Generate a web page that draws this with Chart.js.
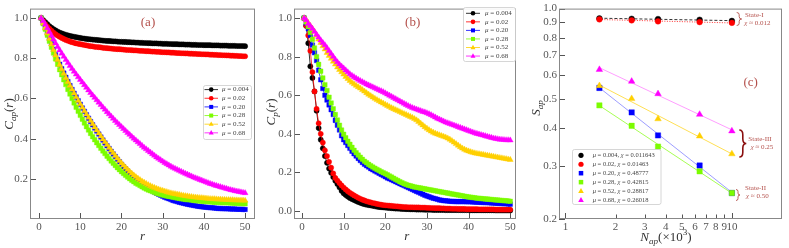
<!DOCTYPE html>
<html>
<head>
  <meta charset="utf-8" />
  <title>Correlation and S_ap panels</title>
  <script src="https://cdn.jsdelivr.net/npm/chart.js"></script>
  <style>
    body { margin: 0; background: #ffffff; }
    #wrap { position: relative; width: 789px; height: 248px; }
    #wrap canvas { position: absolute; top: 0; }
  </style>
</head>
<body>
  <div id="wrap">
    <canvas id="chart-a" width="263" height="248" style="left:0"></canvas>
    <canvas id="chart-b" width="263" height="248" style="left:263px"></canvas>
    <canvas id="chart-c" width="263" height="248" style="left:526px"></canvas>
  </div>
  <script>
    // ---- data ----
    const rVals = [0.5,1,1.5,2,2.5,3,3.5,4,4.5,5,5.5,6,6.5,7,7.5,8,8.5,9,9.5,10,
      10.5,11,11.5,12,12.5,13,13.5,14,14.5,15,15.5,16,16.5,17,17.5,18,18.5,19,19.5,20,
      20.5,21,21.5,22,22.5,23,23.5,24,24.5,25,25.5,26,26.5,27,27.5,28,28.5,29,29.5,30,
      30.5,31,31.5,32,32.5,33,33.5,34,34.5,35,35.5,36,36.5,37,37.5,38,38.5,39,39.5,40,
      40.5,41,41.5,42,42.5,43,43.5,44,44.5,45,45.5,46,46.5,47,47.5,48,48.5,49,49.5,50];

    // panel (a): C_ap(r)
    const capMu004 = [1.0,0.99,0.98,0.97,0.96,0.952,0.945,0.939,0.933,0.928,
      0.924,0.92,0.917,0.914,0.911,0.909,0.907,0.905,0.903,0.901,
      0.899,0.898,0.896,0.895,0.894,0.893,0.892,0.891,0.89,0.889,
      0.888,0.887,0.886,0.886,0.885,0.884,0.884,0.883,0.882,0.882,
      0.881,0.881,0.88,0.88,0.879,0.879,0.878,0.878,0.877,0.877,
      0.876,0.876,0.875,0.875,0.874,0.874,0.874,0.873,0.873,0.872,
      0.872,0.872,0.871,0.871,0.87,0.87,0.87,0.869,0.869,0.869,
      0.868,0.868,0.868,0.867,0.867,0.867,0.866,0.866,0.866,0.865,
      0.865,0.865,0.865,0.864,0.864,0.864,0.864,0.863,0.863,0.863,
      0.863,0.862,0.862,0.862,0.862,0.861,0.861,0.861,0.861,0.86];
    const capMu02 = [1.0,0.985,0.97,0.958,0.947,0.937,0.928,0.92,0.913,0.907,
      0.901,0.896,0.891,0.887,0.883,0.88,0.877,0.874,0.872,0.87,
      0.868,0.866,0.864,0.862,0.86,0.859,0.857,0.856,0.855,0.854,
      0.852,0.851,0.85,0.849,0.848,0.847,0.846,0.845,0.845,0.844,
      0.843,0.842,0.841,0.841,0.84,0.839,0.839,0.838,0.837,0.837,
      0.836,0.835,0.835,0.834,0.833,0.833,0.832,0.832,0.831,0.83,
      0.83,0.829,0.829,0.828,0.828,0.827,0.826,0.826,0.825,0.825,
      0.824,0.824,0.823,0.823,0.822,0.822,0.821,0.821,0.82,0.82,
      0.819,0.819,0.818,0.818,0.817,0.817,0.816,0.816,0.815,0.815,
      0.814,0.814,0.813,0.813,0.812,0.812,0.811,0.811,0.81,0.81];
    const capMu20 = [1.0,0.975,0.95,0.925,0.898,0.872,0.845,0.818,0.794,0.77,
      0.748,0.726,0.705,0.684,0.664,0.645,0.626,0.607,0.589,0.571,
      0.553,0.536,0.519,0.502,0.485,0.469,0.453,0.438,0.423,0.408,
      0.393,0.379,0.365,0.351,0.337,0.324,0.311,0.298,0.285,0.273,
      0.261,0.25,0.239,0.228,0.218,0.208,0.199,0.19,0.182,0.174,
      0.167,0.16,0.153,0.147,0.141,0.135,0.129,0.124,0.119,0.114,
      0.109,0.105,0.101,0.097,0.093,0.09,0.087,0.084,0.081,0.079,
      0.076,0.074,0.072,0.07,0.068,0.066,0.064,0.063,0.061,0.06,
      0.059,0.058,0.057,0.056,0.055,0.054,0.053,0.053,0.052,0.052,
      0.051,0.051,0.05,0.05,0.05,0.049,0.049,0.049,0.048,0.048];
    const capMu28 = [1.0,0.972,0.944,0.915,0.885,0.855,0.826,0.797,0.77,0.743,
      0.718,0.693,0.669,0.645,0.622,0.6,0.578,0.556,0.536,0.516,
      0.497,0.478,0.46,0.443,0.426,0.41,0.395,0.38,0.366,0.352,
      0.339,0.326,0.313,0.301,0.289,0.278,0.267,0.256,0.246,0.236,
      0.227,0.218,0.209,0.201,0.193,0.186,0.179,0.173,0.167,0.161,
      0.155,0.15,0.145,0.141,0.137,0.133,0.129,0.126,0.123,0.12,
      0.117,0.115,0.113,0.111,0.109,0.107,0.105,0.103,0.101,0.1,
      0.098,0.097,0.096,0.095,0.093,0.092,0.091,0.09,0.089,0.088,
      0.087,0.087,0.086,0.085,0.084,0.084,0.083,0.083,0.082,0.082,
      0.081,0.081,0.08,0.08,0.079,0.079,0.078,0.078,0.077,0.077];
    const capMu52 = [1.0,0.975,0.95,0.925,0.898,0.87,0.842,0.815,0.792,0.768,
      0.746,0.724,0.703,0.683,0.664,0.645,0.626,0.607,0.589,0.572,
      0.555,0.538,0.521,0.505,0.489,0.473,0.457,0.442,0.427,0.412,
      0.397,0.383,0.369,0.355,0.341,0.328,0.315,0.302,0.29,0.278,
      0.267,0.256,0.246,0.236,0.227,0.218,0.21,0.202,0.195,0.188,
      0.182,0.176,0.17,0.165,0.16,0.156,0.152,0.148,0.144,0.141,
      0.138,0.135,0.132,0.129,0.127,0.125,0.123,0.121,0.119,0.117,
      0.115,0.114,0.112,0.111,0.109,0.108,0.107,0.106,0.105,0.104,
      0.103,0.102,0.101,0.1,0.1,0.099,0.098,0.098,0.097,0.097,
      0.096,0.096,0.095,0.095,0.094,0.094,0.093,0.093,0.093,0.092];
    const capMu68 = [1.0,0.985,0.968,0.95,0.932,0.913,0.894,0.875,0.857,0.84,
      0.824,0.808,0.792,0.777,0.762,0.748,0.734,0.72,0.706,0.693,
      0.68,0.667,0.654,0.641,0.628,0.616,0.604,0.592,0.58,0.568,
      0.556,0.545,0.533,0.522,0.511,0.5,0.489,0.479,0.469,0.459,
      0.449,0.439,0.429,0.42,0.41,0.401,0.392,0.383,0.374,0.365,
      0.356,0.348,0.34,0.332,0.324,0.316,0.308,0.301,0.294,0.287,
      0.28,0.274,0.268,0.262,0.256,0.251,0.246,0.241,0.236,0.231,
      0.226,0.222,0.217,0.213,0.208,0.204,0.2,0.196,0.192,0.188,
      0.184,0.18,0.176,0.173,0.169,0.166,0.163,0.16,0.157,0.154,
      0.151,0.148,0.145,0.143,0.14,0.138,0.136,0.134,0.132,0.13];

    // panel (b): C_p(r)
    const cpMu004 = [1.0,0.96,0.87,0.75,0.69,0.62,0.52,0.43,0.37,0.325,
      0.285,0.25,0.22,0.198,0.176,0.157,0.14,0.123,0.105,0.092,
      0.083,0.075,0.068,0.062,0.057,0.052,0.047,0.043,0.039,0.036,
      0.033,0.031,0.029,0.027,0.025,0.023,0.021,0.02,0.019,0.018,
      0.017,0.016,0.015,0.014,0.013,0.013,0.012,0.011,0.011,0.01,
      0.01,0.009,0.009,0.009,0.008,0.008,0.008,0.008,0.007,0.007,
      0.007,0.007,0.006,0.006,0.006,0.006,0.006,0.006,0.005,0.005,
      0.005,0.005,0.005,0.005,0.005,0.005,0.005,0.005,0.005,0.005,
      0.004,0.004,0.004,0.004,0.004,0.004,0.004,0.004,0.004,0.004,
      0.004,0.004,0.003,0.003,0.003,0.003,0.003,0.003,0.003,0.003];
    const cpMu02 = [1.0,0.96,0.91,0.83,0.72,0.62,0.53,0.455,0.4,0.355,
      0.315,0.285,0.255,0.225,0.195,0.172,0.158,0.145,0.133,0.122,
      0.112,0.103,0.095,0.088,0.081,0.075,0.069,0.064,0.059,0.055,
      0.051,0.048,0.045,0.042,0.04,0.037,0.035,0.033,0.031,0.03,
      0.029,0.028,0.027,0.026,0.025,0.024,0.023,0.022,0.021,0.021,
      0.02,0.02,0.02,0.019,0.019,0.019,0.018,0.018,0.018,0.017,
      0.017,0.016,0.016,0.015,0.015,0.015,0.014,0.014,0.013,0.013,
      0.013,0.012,0.012,0.012,0.011,0.011,0.011,0.011,0.01,0.01,
      0.01,0.01,0.01,0.01,0.009,0.009,0.009,0.009,0.009,0.009,
      0.009,0.009,0.008,0.008,0.008,0.008,0.008,0.008,0.008,0.008];
    const cpMu20 = [1.0,0.975,0.945,0.91,0.86,0.82,0.78,0.73,0.68,0.635,
      0.6,0.575,0.55,0.525,0.5,0.47,0.445,0.42,0.39,0.37,
      0.355,0.34,0.325,0.31,0.297,0.285,0.273,0.262,0.252,0.243,
      0.235,0.228,0.22,0.214,0.208,0.202,0.196,0.19,0.184,0.178,
      0.172,0.167,0.162,0.157,0.152,0.147,0.142,0.137,0.132,0.127,
      0.122,0.117,0.112,0.107,0.102,0.097,0.092,0.087,0.082,0.078,
      0.074,0.07,0.067,0.064,0.061,0.058,0.056,0.054,0.053,0.052,
      0.051,0.05,0.05,0.049,0.049,0.049,0.049,0.049,0.048,0.048,
      0.048,0.047,0.047,0.046,0.046,0.045,0.045,0.044,0.044,0.043,
      0.042,0.042,0.041,0.04,0.04,0.039,0.038,0.038,0.037,0.036];
    const cpMu28 = [1.0,0.98,0.955,0.925,0.89,0.845,0.8,0.76,0.725,0.69,
      0.655,0.625,0.59,0.56,0.53,0.5,0.472,0.445,0.42,0.398,
      0.38,0.362,0.346,0.33,0.315,0.302,0.29,0.279,0.268,0.258,
      0.25,0.242,0.235,0.228,0.222,0.216,0.21,0.204,0.199,0.194,
      0.188,0.182,0.176,0.17,0.164,0.158,0.152,0.147,0.142,0.138,
      0.134,0.131,0.128,0.125,0.123,0.121,0.119,0.117,0.115,0.113,
      0.111,0.109,0.107,0.105,0.103,0.101,0.099,0.097,0.095,0.093,
      0.091,0.089,0.087,0.085,0.083,0.081,0.079,0.077,0.075,0.073,
      0.072,0.07,0.069,0.067,0.066,0.065,0.064,0.063,0.062,0.061,
      0.06,0.059,0.058,0.057,0.056,0.055,0.054,0.053,0.052,0.051];
    const cpMu52 = [1.0,0.99,0.975,0.96,0.945,0.93,0.91,0.89,0.872,0.855,
      0.838,0.82,0.805,0.79,0.775,0.76,0.745,0.732,0.72,0.708,
      0.696,0.685,0.675,0.666,0.658,0.65,0.643,0.636,0.628,0.62,
      0.612,0.604,0.597,0.59,0.583,0.576,0.57,0.564,0.558,0.552,
      0.546,0.54,0.534,0.529,0.524,0.519,0.514,0.509,0.504,0.499,
      0.494,0.489,0.484,0.478,0.471,0.463,0.454,0.445,0.436,0.428,
      0.42,0.413,0.407,0.402,0.398,0.394,0.39,0.386,0.382,0.377,
      0.371,0.364,0.356,0.348,0.34,0.332,0.325,0.319,0.314,0.31,
      0.306,0.303,0.3,0.298,0.296,0.294,0.292,0.29,0.288,0.286,
      0.284,0.282,0.28,0.278,0.276,0.274,0.272,0.27,0.268,0.266];
    const cpMu68 = [1.0,0.99,0.97,0.96,0.945,0.93,0.915,0.9,0.885,0.872,
      0.86,0.845,0.83,0.815,0.8,0.785,0.772,0.76,0.75,0.74,
      0.73,0.72,0.71,0.702,0.695,0.688,0.681,0.675,0.669,0.663,
      0.657,0.652,0.647,0.642,0.637,0.632,0.627,0.622,0.617,0.611,
      0.605,0.599,0.593,0.587,0.581,0.575,0.569,0.563,0.557,0.551,
      0.545,0.54,0.535,0.531,0.527,0.523,0.519,0.515,0.512,0.508,
      0.503,0.498,0.492,0.486,0.48,0.475,0.47,0.465,0.46,0.456,
      0.452,0.448,0.444,0.44,0.436,0.432,0.428,0.424,0.42,0.416,
      0.412,0.408,0.404,0.401,0.398,0.395,0.392,0.389,0.386,0.383,
      0.38,0.377,0.375,0.373,0.371,0.37,0.369,0.368,0.368,0.367];

    // panel (c): S_ap vs N_ap (x10^3)
    const nAp = [1.6, 2.5, 3.6, 6.4, 10];
    const sapMu004 = [0.928, 0.925, 0.923, 0.918, 0.91];
    const sapMu02 = [0.921, 0.914, 0.907, 0.902, 0.897];
    const sapMu20 = [0.545, 0.452, 0.379, 0.301, 0.244];
    const sapMu28 = [0.477, 0.408, 0.348, 0.288, 0.244];
    const sapMu52 = [0.554, 0.502, 0.43, 0.377, 0.329];
    const sapMu68 = [0.627, 0.573, 0.521, 0.445, 0.392];

    const muLabels = ['0.004', '0.02', '0.20', '0.28', '0.52', '0.68'];
    const chiLabels = ['0.011643', '0.01463', '0.48777', '0.42815', '0.28817', '0.26018'];

    const xTicksR = [0, 10, 20, 30, 40, 50];
    const yTicksA = [0.2, 0.4, 0.6, 0.8, 1.0];
    const yTicksB = [0.0, 0.2, 0.4, 0.6, 0.8, 1.0];
    const xTicksN = [1, 2, 3, 4, 5, 6, 7, 8, 9, 10];
    const yTicksS = [0.2, 0.3, 0.4, 0.5, 0.6, 0.7, 0.8, 0.9, 1.0];

    // ---- styles ----
    const colors = ['#000000', '#ff0000', '#0000ff', '#7cfc00', '#ffd000', '#ff00ff'];
    const fitColors = ['#000000', '#ff0000', 'rgba(90,90,255,0.75)', 'rgba(124,252,0,0.85)', 'rgba(255,208,0,0.85)', 'rgba(255,90,255,0.75)'];
    const fitDash = [[3, 2], [1, 1.5], [], [], [], []];
    const marks = ['circle', 'circle', 'rect', 'rect', 'triangle', 'triangle'];
    const tagColor = '#b4504b';
    const FAM = '"Liberation Serif", "DejaVu Serif", serif';

    function fontFor(st, size) {
      const small = st === 'b' || st === 'p';
      const it = st === 'i' || st === 'b';
      return (it ? 'italic ' : '') + (small ? size * 0.7 : size) + 'px ' + FAM;
    }
    // parts: [text, style]; style i=italic, n=normal, b=italic subscript, p=superscript
    function drawRich(ctx, parts, x, y, size, color, align, rotate) {
      ctx.save();
      ctx.translate(x, y);
      if (rotate) ctx.rotate(-Math.PI / 2);
      ctx.fillStyle = color;
      ctx.textBaseline = 'middle';
      ctx.textAlign = 'left';
      let w = 0;
      parts.forEach(([t, st]) => { ctx.font = fontFor(st, size); w += ctx.measureText(t).width; });
      let cx = align === 'center' ? -w / 2 : 0;
      parts.forEach(([t, st]) => {
        ctx.font = fontFor(st, size);
        const dy = st === 'b' ? size * 0.3 : (st === 'p' ? -size * 0.38 : 0);
        ctx.fillText(t, cx, dy);
        cx += ctx.measureText(t).width;
      });
      ctx.restore();
    }
    function drawMarker(ctx, style, x, y, r, color) {
      ctx.fillStyle = color;
      ctx.beginPath();
      if (style === 'circle') {
        ctx.arc(x, y, r, 0, Math.PI * 2);
      } else if (style === 'rect') {
        const s = r * 1.45;
        ctx.rect(x - s / 2, y - s / 2, s, s);
      } else {
        ctx.moveTo(x, y - r);
        ctx.lineTo(x - r * 0.9, y + r * 0.6);
        ctx.lineTo(x + r * 0.9, y + r * 0.6);
        ctx.closePath();
      }
      ctx.fill();
    }
    function drawBrace(ctx, x, y1, y2, w, color, lw) {
      const ym = (y1 + y2) / 2, h = (y2 - y1) / 2, xm = x + w / 2;
      ctx.save();
      ctx.strokeStyle = color;
      ctx.lineWidth = lw;
      ctx.beginPath();
      ctx.moveTo(x, y1);
      ctx.quadraticCurveTo(xm, y1, xm, y1 + h * 0.35);
      ctx.lineTo(xm, ym - h * 0.35);
      ctx.quadraticCurveTo(xm, ym, x + w, ym);
      ctx.quadraticCurveTo(xm, ym, xm, ym + h * 0.35);
      ctx.lineTo(xm, y2 - h * 0.35);
      ctx.quadraticCurveTo(xm, y2, x, y2);
      ctx.stroke();
      ctx.restore();
    }

    // frame, inward ticks, axis titles, legend box and notes
    const decor = {
      id: 'decor',
      afterDraw(chart, args, o) {
        const ctx = chart.ctx, a = chart.chartArea;
        const xs = chart.scales.x, ys = chart.scales.y;
        ctx.save();
        ctx.strokeStyle = '#555';
        ctx.lineWidth = 1;
        xs.ticks.forEach(t => {
          const p = Math.round(xs.getPixelForValue(t.value)) + 0.5;
          const len = (o.minorX && t.value !== 1 && t.value !== 10) ? 4.5 : 6;
          ctx.beginPath(); ctx.moveTo(p, a.bottom); ctx.lineTo(p, a.bottom - len); ctx.stroke();
        });
        ys.ticks.forEach(t => {
          const p = Math.round(ys.getPixelForValue(t.value)) + 0.5;
          ctx.beginPath(); ctx.moveTo(a.left, p); ctx.lineTo(a.left + 6, p); ctx.stroke();
        });
        ctx.strokeStyle = '#888';
        ctx.strokeRect(a.left + 0.5, a.top + 0.5, a.right - a.left - 1, a.bottom - a.top - 1);
        ctx.restore();

        drawRich(ctx, o.yTitle.parts, o.yTitle.x, o.yTitle.y, 13, '#333', 'center', true);
        drawRich(ctx, o.xTitle.parts, o.xTitle.x, o.xTitle.y, 13, '#333', 'center', false);

        const L = o.legend;
        ctx.save();
        ctx.fillStyle = 'rgba(255,255,255,0.9)';
        ctx.strokeStyle = '#cccccc';
        ctx.lineWidth = 0.8;
        ctx.beginPath();
        ctx.roundRect(L.x + 0.5, L.y + 0.5, L.w, L.h, 2);
        ctx.fill(); ctx.stroke();
        L.labels.forEach((parts, i) => {
          const y = L.row0 + i * L.dy;
          if (L.line) {
            ctx.strokeStyle = colors[i]; ctx.lineWidth = 0.8;
            ctx.beginPath(); ctx.moveTo(L.line[0], y); ctx.lineTo(L.line[1], y); ctx.stroke();
          }
          drawMarker(ctx, marks[i], L.markX, y, marks[i] === 'circle' ? L.mr : L.mr * 1.2, colors[i]);
          drawRich(ctx, parts, L.textX, y, L.size, '#444', 'left', false);
        });
        ctx.restore();

        (o.braces || []).forEach(b => drawBrace(ctx, b.x, b.y1, b.y2, b.w, b.color, b.lw));
        (o.notes || []).forEach(n => drawRich(ctx, n.parts, n.x, n.y, n.size, tagColor, n.align, false));
      }
    };

    function fixedTicks(list, minorFlag) {
      return s => { s.ticks = list.map(v => ({ value: v })); };
    }
    function powerFit(xs, ys) {
      const lx = xs.map(Math.log10), ly = ys.map(Math.log10);
      const n = lx.length;
      const mx = lx.reduce((s, v) => s + v, 0) / n, my = ly.reduce((s, v) => s + v, 0) / n;
      let sxy = 0, sxx = 0;
      lx.forEach((v, k) => { sxy += (v - mx) * (ly[k] - my); sxx += (v - mx) * (v - mx); });
      const slope = sxy / sxx, icpt = my - slope * mx;
      return [xs[0], xs[n - 1]].map(x => ({ x, y: Math.pow(10, icpt + slope * Math.log10(x)) }));
    }
    function curveSets(series) {
      const rad = { circle: 2.6, rect: 3.2, triangle: 3.4 };
      return series.map((vals, i) => ({
        data: rVals.map((x, k) => ({ x, y: vals[k] })),
        showLine: true,
        borderColor: colors[i],
        backgroundColor: colors[i],
        borderWidth: 0.8,
        pointStyle: marks[i],
        pointRadius: rad[marks[i]],
        pointBorderWidth: 0.4,
        order: 5 - i
      }));
    }
    function tickFont() { return { family: FAM, size: 11 }; }

    function makePanel(id, cfg) {
      return new Chart(document.getElementById(id), {
        type: 'scatter',
        data: { datasets: cfg.datasets },
        options: {
          responsive: false,
          animation: false,
          devicePixelRatio: 1,
          layout: { padding: { top: 5, right: cfg.padRight, left: 0, bottom: 0 } },
          plugins: { legend: { display: false }, tooltip: { enabled: false }, decor: cfg.decor },
          scales: {
            x: {
              type: cfg.xType, min: cfg.xMin, max: cfg.xMax,
              grid: { display: false, drawTicks: false }, border: { display: false },
              afterBuildTicks: fixedTicks(cfg.xTicks),
              afterFit: s => { s.height = 29; },
              ticks: { autoSkip: false, maxRotation: 0, padding: 2, color: '#555', font: tickFont(),
                callback: v => String(v) }
            },
            y: {
              type: cfg.yType, min: cfg.yMin, max: cfg.yMax,
              grid: { display: false, drawTicks: false }, border: { display: false },
              afterBuildTicks: fixedTicks(cfg.yTicks),
              afterFit: s => { s.width = cfg.yWidth; },
              ticks: { autoSkip: false, padding: 2, color: '#555', font: tickFont(),
                callback: v => Number(v).toFixed(1) }
            }
          }
        },
        plugins: [decor]
      });
    }

    // (a)
    makePanel('chart-a', {
      datasets: curveSets([capMu004, capMu02, capMu20, capMu28, capMu52, capMu68]),
      padRight: 8, yWidth: 30,
      xType: 'linear', xMin: -2.2, xMax: 52.4, xTicks: xTicksR,
      yType: 'linear', yMin: 0.0005, yMax: 1.047, yTicks: yTicksA,
      decor: {
        yTitle: { parts: [['C', 'i'], ['ap', 'b'], ['(', 'n'], ['r', 'i'], [')', 'n']], x: 10, y: 114 },
        xTitle: { parts: [['r', 'i']], x: 142.5, y: 237 },
        legend: { x: 203, y: 85, w: 48, h: 54, row0: 89.6, dy: 8.65, line: [204.5, 218], markX: 211.2, textX: 222, mr: 2.3, size: 7,
          labels: muLabels.map(m => [['μ', 'i'], [' = ' + m, 'n']]) },
        notes: [{ parts: [['(a)', 'n']], x: 148, y: 23, size: 13, align: 'center' }]
      }
    });

    // (b)
    makePanel('chart-b', {
      datasets: curveSets([cpMu004, cpMu02, cpMu20, cpMu28, cpMu52, cpMu68]),
      padRight: 10, yWidth: 31,
      xType: 'linear', xMin: -1.92, xMax: 51.38, xTicks: xTicksR,
      yType: 'linear', yMin: -0.041, yMax: 1.049, yTicks: yTicksB,
      decor: {
        yTitle: { parts: [['C', 'i'], ['p', 'b'], ['(', 'n'], ['r', 'i'], [')', 'n']], x: 9, y: 112 },
        xTitle: { parts: [['r', 'i']], x: 143.7, y: 237 },
        legend: { x: 200, y: 7, w: 52, h: 54, row0: 13.3, dy: 8.55, line: [203, 217], markX: 210, textX: 222, mr: 2.3, size: 7,
          labels: muLabels.map(m => [['μ', 'i'], [' = ' + m, 'n']]) },
        notes: [{ parts: [['(b)', 'n']], x: 149.7, y: 23, size: 13, align: 'center' }]
      }
    });

    // (c)
    const sapSeries = [sapMu004, sapMu02, sapMu20, sapMu28, sapMu52, sapMu68];
    const radC = { circle: 2.9, rect: 3.8, triangle: 3.8 };
    const cSets = [];
    sapSeries.forEach((vals, i) => {
      cSets.push({
        data: nAp.map((x, k) => ({ x, y: vals[k] })),
        showLine: false,
        borderColor: colors[i], backgroundColor: colors[i],
        pointStyle: marks[i], pointRadius: radC[marks[i]], pointBorderWidth: 0.4,
        order: 5 - i
      });
    });
    sapSeries.forEach((vals, i) => {
      cSets.push({
        data: powerFit(nAp, vals),
        showLine: true, pointRadius: 0,
        borderColor: fitColors[i], borderDash: fitDash[i], borderWidth: 0.8,
        order: 20 - i
      });
    });
    makePanel('chart-c', {
      datasets: cSets,
      padRight: 7, yWidth: 33,
      xType: 'logarithmic', xMin: 0.915, xMax: 20, xTicks: xTicksN,
      yType: 'logarithmic', yMin: 0.2, yMax: 1.0, yTicks: yTicksS,
      decor: {
        minorX: true,
        yTitle: { parts: [['S', 'i'], ['ap', 'b']], x: 10.5, y: 108 },
        xTitle: { parts: [['N', 'i'], ['ap', 'b'], ['(×10', 'n'], ['3', 'p'], [')', 'n']], x: 140, y: 238 },
        legend: { x: 46, y: 149, w: 88.5, h: 55, row0: 155.3, dy: 8.95, line: null, markX: 55, textX: 66.7, mr: 2.6, size: 6.5,
          labels: muLabels.map((m, i) => [['μ', 'i'], [' = ' + m + ', ', 'n'], ['χ', 'i'], [' = ' + chiLabels[i], 'n']]) },
        braces: [
          { x: 210.7, y1: 12.5, y2: 25.5, w: 5, color: tagColor, lw: 0.9 },
          { x: 213.3, y1: 130, y2: 157, w: 7, color: '#8b1010', lw: 1.6 },
          { x: 210, y1: 189.5, y2: 200.5, w: 4, color: tagColor, lw: 0.9 }
        ],
        notes: [
          { parts: [['(c)', 'n']], x: 224.7, y: 82.7, size: 13, align: 'center' },
          { parts: [['State-I', 'n']], x: 219, y: 15.5, size: 7, align: 'left' },
          { parts: [['χ', 'i'], [' ≈ 0.012', 'n']], x: 218.3, y: 23, size: 7, align: 'left' },
          { parts: [['State-III', 'n']], x: 222.3, y: 139.5, size: 7, align: 'left' },
          { parts: [['χ', 'i'], [' ≈ 0.25', 'n']], x: 224.7, y: 147, size: 7, align: 'left' },
          { parts: [['State-II', 'n']], x: 219, y: 188.5, size: 7, align: 'left' },
          { parts: [['χ', 'i'], [' ≈ 0.50', 'n']], x: 220, y: 196.5, size: 7, align: 'left' }
        ]
      }
    });
  </script>
</body>
</html>
